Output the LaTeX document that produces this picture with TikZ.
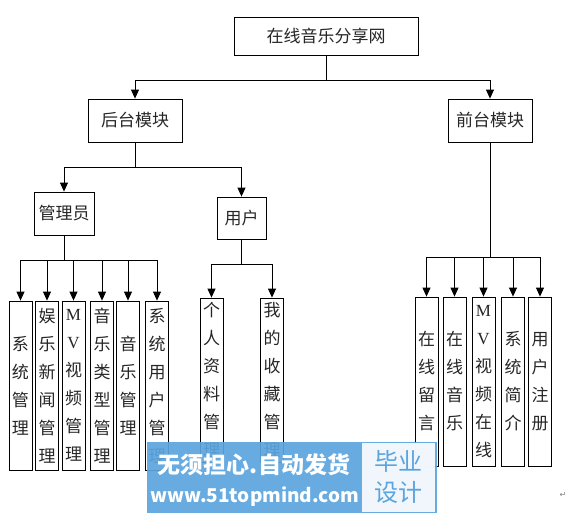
\documentclass[tikz,border=0pt]{standalone}
\usepackage{fontspec}
\newfontfamily\cjk{Noto Sans CJK SC}
\newfontfamily\latin{Liberation Serif}
\newfontfamily\symfont{DejaVu Sans}
\usepackage{xcolor}
\usepackage{tikz}
\usetikzlibrary{positioning,arrows.meta}
\definecolor{wmBlue}{HTML}{5BA4DE}
\definecolor{boxText}{HTML}{262626}

\begin{document}
\begin{tikzpicture}[x=1pt, y=-1pt, line width=0.8pt,
  box/.style={draw, text=boxText, minimum height=43pt, inner sep=0pt, font=\cjk\fontsize{17}{20}\selectfont},
  vbox/.style={draw, text=boxText, minimum width=23pt, minimum height=169pt, inner sep=0pt, align=center, font=\cjk\fontsize{17}{28}\selectfont},
  arr/.style={-{Triangle[length=9pt,width=8pt]}}]
\path[use as bounding box] (0,0) rectangle (587,515);
% upper levels
\node[box, minimum width=184pt, minimum height=38pt] (site) at (326,36) {在线音乐分享网};
\node[box, minimum width=94pt] (back) at (135,120.5) {后台模块};
\node[box, minimum width=84pt] (front) at (490,120.5) {前台模块};
\node[box, minimum width=60pt] (admin) at (64,213.5) {管理员};
\node[box, minimum width=49pt, minimum height=42pt] (user) at (241.5,218) {用户};
% admin functions
\node[vbox] (a1) at (20.5,385.5) {系\\统\\管\\理};
\node[vbox] (a2) at (47,385.5) {娱\\乐\\新\\闻\\管\\理};
\node[vbox] (a3) at (73.5,385.5) {{\latin M}\\{\latin V}\\视\\频\\管\\理};
\node[vbox] (a4) at (102,385.5) {音\\乐\\类\\型\\管\\理};
\node[vbox] (a5) at (128,385.5) {音\\乐\\管\\理};
\node[vbox] (a6) at (157,385.5) {系\\统\\用\\户\\管\\理};
% user functions
\node[vbox, minimum height=164pt] (u1) at (211.5,380) {个\\人\\资\\料\\管\\理};
\node[vbox, minimum height=164pt] (u2) at (272,380) {我\\的\\收\\藏\\管\\理};
% front functions
\node[vbox] (f1) at (426.5,381.5) {在\\线\\留\\言};
\node[vbox] (f2) at (454.5,381.5) {在\\线\\音\\乐};
\node[vbox] (f3) at (483.5,381.5) {{\latin M}\\{\latin V}\\视\\频\\在\\线};
\node[vbox] (f4) at (513,381.5) {系\\统\\简\\介};
\node[vbox] (f5) at (540,381.5) {用\\户\\注\\册};
% connectors
\coordinate (j0) at (326,80);
\coordinate (j1) at (135,167);
\coordinate (j2) at (64,260);
\coordinate (j3) at (241.5,264);
\coordinate (j4) at (490,257);
\draw (site) -- (j0);
\draw[arr] (j0) -| (back);
\draw[arr] (j0) -| (front);
\draw (back) -- (j1);
\draw[arr] (j1) -| (admin);
\draw[arr] (j1) -| (user);
\draw (admin) -- (j2);
\foreach \n in {a1,a2,a3,a4,a5,a6} \draw[arr] (j2) -| (\n);
\draw (user) -- (j3);
\foreach \n in {u1,u2} \draw[arr] (j3) -| (\n);
\draw (front) -- (j4);
\foreach \n in {f1,f2,f3,f4,f5} \draw[arr] (j4) -| (\n);
% watermark
\fill[wmBlue, fill opacity=0.92] (147,442) rectangle (437,513);
\fill[white, fill opacity=0.9] (362,443) rectangle (435,512);
\node[white, font=\cjk\bfseries\fontsize{23}{23}\selectfont] (wmA) at (254,465) {无须担心.自动发货};
\node[white, font=\cjk\bfseries\fontsize{19}{19}\selectfont] (wmB) at (255,497) {www.51topmind.com};
\node[wmBlue, font=\cjk\fontsize{24}{31}\selectfont, align=center] (wmC) at (398,477) {毕业\\设计};
\node[gray, font=\symfont\fontsize{8}{8}\selectfont] (ret) at (563,495) {↵};
\end{tikzpicture}
\end{document}
